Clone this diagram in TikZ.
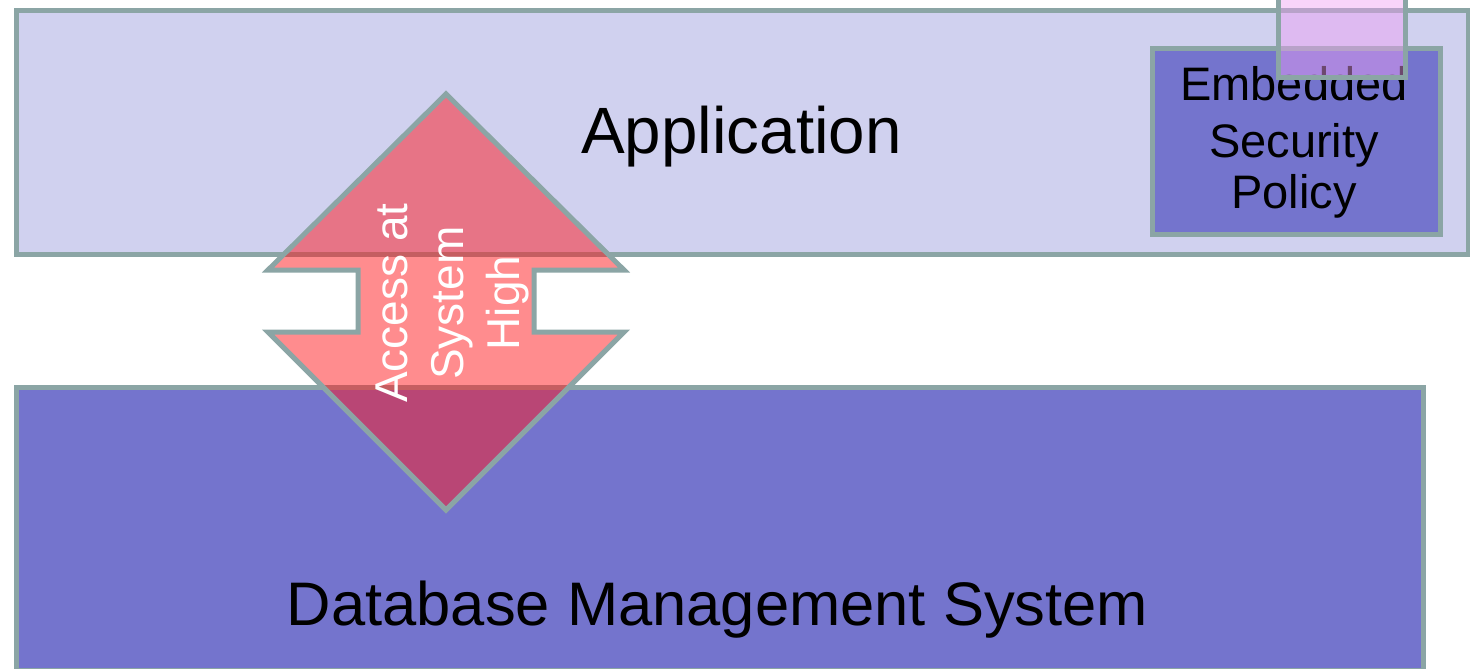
\documentclass[tikz,border=0pt]{standalone}
\usepackage{fontspec}
\setmainfont{Liberation Sans}
\definecolor{edgegray}{RGB}{139,165,165}
\definecolor{appfill}{RGB}{208,209,239}
\definecolor{dbfill}{RGB}{116,116,205}
\definecolor{pinkfill}{RGB}{240,160,245}
\definecolor{redfill}{RGB}{255,25,30}
\begin{document}
\begin{tikzpicture}[x=1pt,y=-1pt,
  layer/.style={draw=edgegray, line width=5pt, rectangle, inner sep=0pt, anchor=north west},
  bigtext/.style={inner sep=0pt, anchor=base, font=\fontsize{65.5}{78}\selectfont},
  dbtext/.style={inner sep=0pt, anchor=base, font=\fontsize{61.5}{72}\selectfont},
  smalltext/.style={inner sep=0pt, anchor=base, font=\fontsize{47}{56}\selectfont},
  arrowtext/.style={inner sep=0pt, anchor=base, rotate=90, text=white, font=\fontsize{46}{56}\selectfont},
  arrowshape/.style={draw=edgegray, line width=5pt, line join=miter, fill=redfill, fill opacity=0.5},
  overlay box/.style={draw=edgegray, line width=5pt, fill=pinkfill, fill opacity=0.45}]
\useasboundingbox (0,0) rectangle (1470,669);

% the two layers
\node[layer, fill=appfill, minimum width=1452, minimum height=244] (app) at (14,8) {};
\node[layer, fill=dbfill, minimum width=1407, minimum height=283] (dbms) at (14,385) {};

% policy box inside the application layer
\node[layer, fill=dbfill, minimum width=288, minimum height=186] (policy) at (1150,46) {};
\node[smalltext] (pol1) at (1294,100) {Embedded};
\node[smalltext] (pol2) at (1294,157) {Security};
\node[smalltext] (pol3) at (1294,208) {Policy};

% translucent box over the policy
\draw[overlay box] (1278,-20) rectangle (1405.5,77.5);

% layer labels
\node[bigtext] (applabel) at (741.5,153) {Application};
\node[dbtext] (dblabel) at (717.5,625) {Database Management System};

% double-headed access arrow
\draw[arrowshape] (446,94) -- (624,270) -- (534,270) -- (534,332) -- (624,332)
  -- (446,510) -- (268,332) -- (358,332) -- (358,270) -- (268,270) -- cycle;
\node[arrowtext] (acc1) at (407,303) {Access at};
\node[arrowtext] (acc2) at (463,303) {System};
\node[arrowtext] (acc3) at (519,303) {High};
\end{tikzpicture}
\end{document}
